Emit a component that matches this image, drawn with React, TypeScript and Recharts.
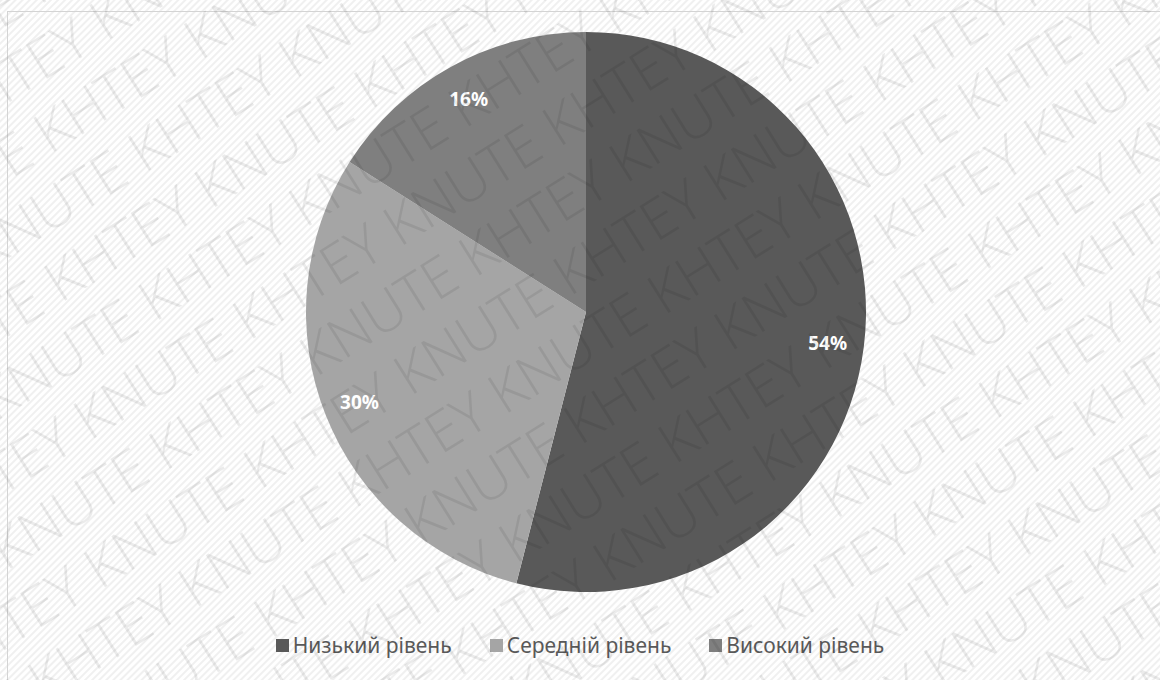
import React from "react";
import { PieChart, Pie, Cell, Legend } from "recharts";

// shares of respondents by level
const levels = ["Низький рівень", "Середній рівень", "Високий рівень"];
const shares = [54, 30, 16];
const sliceColors = ["#595959", "#a5a5a5", "#7f7f7f"];

const watermarkWords = ["KNUTE", "KHTEY"];

const data = levels.map((name, i) => ({ name, value: shares[i] }));

const W = 1160;
const H = 680;
const CX = 581;
const CY = 307;
const R = 280;

const RAD = Math.PI / 180;

const renderLabel = (props: any) => {
  const { cx, cy, midAngle, outerRadius, value } = props;
  const rr = outerRadius * 0.87;
  const x = cx + rr * Math.cos(-midAngle * RAD);
  const y = cy + rr * Math.sin(-midAngle * RAD);
  return (
    <text
      x={x}
      y={y}
      fill="#ffffff"
      textAnchor="middle"
      dominantBaseline="central"
      fontFamily="'Noto Sans', sans-serif"
      fontWeight={700}
      fontSize={19}
    >
      {value}%
    </text>
  );
};

const renderLegend = () => (
  <div
    style={{
      display: "flex",
      justifyContent: "center",
      gap: 38,
      fontFamily: "'Noto Sans', sans-serif",
      fontSize: 21,
      color: "#595959",
    }}
  >
    {levels.map((name, i) => (
      <span key={name} style={{ display: "flex", alignItems: "center" }}>
        <span
          style={{
            display: "inline-block",
            width: 13,
            height: 13,
            background: sliceColors[i],
            marginRight: 4,
          }}
        />
        {name}
      </span>
    ))}
  </div>
);

// repeating watermark rows, purely decorative
const Watermark = () => {
  const rows = Array.from({ length: 28 }, (_, i) => i);
  const line = Array.from({ length: 12 }, (_, i) => watermarkWords[i % 2]).join(" ");
  return (
    <svg
      width={W}
      height={H}
      style={{ position: "absolute", left: 0, top: 0, pointerEvents: "none" }}
    >
      <g transform={`rotate(-32 ${W / 2} ${H / 2})`}>
        {rows.map((r) => (
          <text
            key={r}
            x={-760 + (r % 3) * 70}
            y={-560 + r * 66}
            fontFamily="'Open Sans', sans-serif"
            fontWeight={300}
            fontSize={56}
            fill="rgba(0,0,0,0.08)"
          >
            {line}
          </text>
        ))}
      </g>
    </svg>
  );
};

const Background = () => (
  <svg width={W} height={H} style={{ position: "absolute", left: 0, top: 0 }}>
    <defs>
      <pattern
        id="stripes"
        width={5}
        height={5}
        patternUnits="userSpaceOnUse"
        patternTransform="rotate(45)"
      >
        <rect width={5} height={5} fill="#ffffff" />
        <rect width={2} height={5} fill="#f0f0f0" />
      </pattern>
    </defs>
    <rect x={0} y={0} width={W} height={H} fill="url(#stripes)" />
    <rect x={7.5} y={11.5} width={W + 20} height={H + 20} fill="none" stroke="#d4d4d4" strokeWidth={1} />
  </svg>
);

export default function App() {
  return (
    <div style={{ position: "absolute", left: 0, top: 0, width: W, height: H, overflow: "hidden" }}>
      <Background />
      <div style={{ position: "absolute", left: 0, top: 0 }}>
        <PieChart width={W} height={H}>
          <Pie
            data={data}
            dataKey="value"
            nameKey="name"
            cx={CX}
            cy={CY}
            outerRadius={R}
            startAngle={90}
            endAngle={-270}
            stroke="none"
            label={renderLabel}
            labelLine={false}
            isAnimationActive={false}
          >
            {data.map((d, i) => (
              <Cell key={d.name} fill={sliceColors[i]} />
            ))}
          </Pie>
          <Legend
            content={renderLegend}
            wrapperStyle={{ position: "absolute", top: 631, left: 0, width: W }}
          />
        </PieChart>
      </div>
      <Watermark />
    </div>
  );
}
